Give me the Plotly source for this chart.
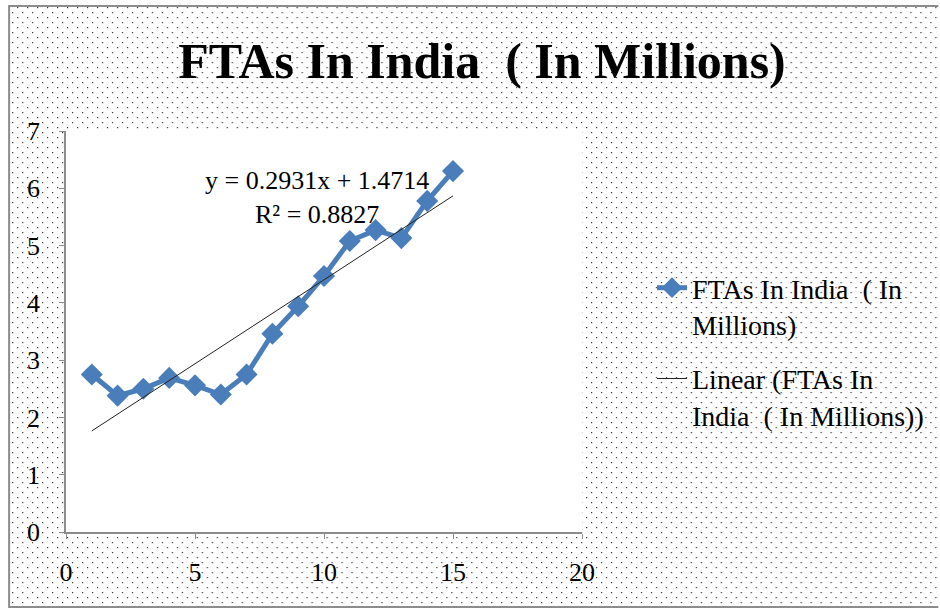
"""FTAs in India line chart with linear trendline, Excel style."""

import base64

import plotly.graph_objects as go

# data
years = list(range(1, 16))
ftas = [2.75, 2.38, 2.50, 2.69, 2.56, 2.40, 2.75, 3.46, 3.94, 4.47, 5.08, 5.27, 5.13, 5.78, 6.30]
slope = 0.2931
intercept = 1.4714
r_squared = 0.8827
x_ticks = [0, 5, 10, 15, 20]
y_ticks = [0, 1, 2, 3, 4, 5, 6, 7]

W, H = 940, 608
M = dict(l=66, r=357, t=131, b=76)
FONT = "Liberation Serif"
BLUE = "#4A7EBB"
SP = "\u00a0"  # keep the double spaces Excel shows

# dotted chart-area background with grey frame (Excel pattern fill)
svg = f"""<svg xmlns='http://www.w3.org/2000/svg' width='{W}' height='{H}'>
<defs><pattern id='d' width='10' height='10' patternUnits='userSpaceOnUse'>
<rect x='2' y='2' width='1.2' height='1.2' fill='#333'/>
<rect x='7' y='7' width='1.2' height='1.2' fill='#333'/></pattern></defs>
<rect width='{W}' height='{H}' fill='white'/>
<rect x='9' y='6' width='{W}' height='{H - 7}' fill='url(#d)' stroke='#8c8c8c' stroke-width='2'/>
</svg>"""
bg_src = "data:image/svg+xml;base64," + base64.b64encode(svg.encode()).decode()

pw = W - M["l"] - M["r"]
ph = H - M["t"] - M["b"]

trend_y = [slope * x + intercept for x in years]

fig = go.Figure()
fig.add_trace(
    go.Scatter(
        x=years,
        y=ftas,
        mode="lines+markers",
        name=f"FTAs In India {SP}( In<br>Millions)",
        legendgroup="series",
        line=dict(color=BLUE, width=5),
        marker=dict(symbol="diamond", size=17, color=BLUE),
    )
)
fig.add_trace(
    go.Scatter(
        x=[years[0], years[-1]],
        y=[trend_y[0], trend_y[-1]],
        mode="lines",
        name=f"Linear (FTAs In<br>India {SP}( In Millions))",
        legendgroup="trend",
        line=dict(color="#222222", width=1),
    )
)

fig.add_annotation(
    text=f"y = {slope}x + {intercept}<br>R² = {r_squared}",
    xref="x",
    yref="y",
    x=9.71,
    y=5.84,
    showarrow=False,
    align="center",
    font=dict(family=FONT, size=26, color="black"),
)

fig.add_layout_image(
    source=bg_src,
    xref="paper",
    yref="paper",
    x=-M["l"] / pw,
    y=1 + M["t"] / ph,
    sizex=W / pw,
    sizey=H / ph,
    xanchor="left",
    yanchor="top",
    sizing="stretch",
    layer="below",
)
fig.add_shape(
    type="rect",
    xref="x domain",
    yref="y domain",
    x0=0,
    x1=1,
    y0=0,
    y1=1,
    fillcolor="white",
    line_width=0,
    layer="below",
)

axis_common = dict(
    showgrid=False,
    zeroline=False,
    showline=True,
    linecolor="#8c8c8c",
    linewidth=1.5,
    ticks="outside",
    ticklen=5,
    tickcolor="#8c8c8c",
    tickfont=dict(family=FONT, size=26, color="black"),
)
fig.update_xaxes(range=[0, 20], tickvals=x_ticks, ticklabelstandoff=11, **axis_common)
fig.update_yaxes(range=[0, 7], tickvals=y_ticks, ticklabelstandoff=14, **axis_common)

fig.update_layout(
    width=W,
    height=H,
    margin=M,
    paper_bgcolor="white",
    plot_bgcolor="white",
    title=dict(
        text=f"<b>FTAs In India {SP}( In Millions)</b>",
        x=482 / W,
        xanchor="center",
        y=1 - 60 / H,
        yanchor="middle",
        font=dict(family=FONT, size=50, color="black"),
    ),
    legend=dict(
        x=(652 - M["l"]) / pw,
        y=(H - M["b"] - 263) / ph,
        xanchor="left",
        yanchor="top",
        bgcolor="rgba(0,0,0,0)",
        font=dict(family=FONT, size=28, color="black"),
        valign="top",
        traceorder="grouped",
        tracegroupgap=15,
    ),
    showlegend=True,
)

# page body margin would shift the chart off the origin
fig.write_html(
    "out.html",
    config={"displayModeBar": False},
    post_script="document.body.style.margin='0';",
)
